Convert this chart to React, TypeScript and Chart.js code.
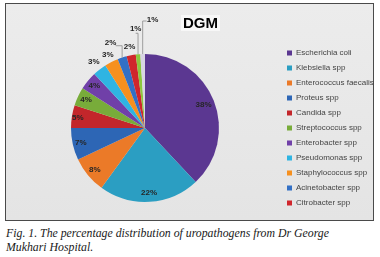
import React, { useEffect, useRef } from "react";
import { Chart, registerables } from "chart.js";

Chart.register(...registerables);

// ---- data ----
const categories = [
  "Escherichia coli",
  "Klebsiella spp",
  "Enterococcus faecalis",
  "Proteus spp",
  "Candida spp",
  "Streptococcus spp",
  "Enterobacter spp",
  "Pseudomonas spp",
  "Staphylococcus spp",
  "Acinetobacter spp",
  "Citrobacter spp",
  "Other 1",
  "Other 2",
];
const percentages = [38, 22, 8, 7, 5, 4, 4, 3, 3, 2, 2, 1, 1];
const legendCount = 11;
const chartTitle = "DGM";
const captionLines = [
  "Fig. 1. The percentage distribution of uropathogens from Dr George",
  "Mukhari Hospital.",
];

// ---- styles ----
const sliceColors = [
  "#5b3791",
  "#2b9ec2",
  "#eb7a28",
  "#2d66b5",
  "#c3262b",
  "#78ac3a",
  "#7040a8",
  "#2fb4e2",
  "#f6901f",
  "#3370c5",
  "#d0262c",
  "#8cc63e",
  "#d8d5e3",
];

type Placement = { r: number; dx?: number; dy?: number; leader?: { sx: number; sy: number } };
const labelPlacement: Placement[] = [
  { r: 0.85 },
  { r: 0.88 },
  { r: 0.88 },
  { r: 0.89 },
  { r: 0.92 },
  { r: 0.88 },
  { r: 0.89 },
  { r: 1.13 },
  { r: 1.11 },
  { r: 1.24, dx: -6, dy: 2, leader: { sx: 5, sy: 3 } },
  { r: 1.12 },
  { r: 1.34, leader: { sx: 0, sy: 4 } },
  { r: 1.46, dx: 11, leader: { sx: -6, sy: 1 } },
];

const CANVAS_W = 400;
const CANVAS_H = 222;
const LEGEND_FONT = 8;
const LEGEND_FAMILY = "'Liberation Sans', Arial, sans-serif";
const LEGEND_PAD = 7;
const LEGEND_BOX = 5;
const LEGEND_LEFT = 280;
const PIE_CX = 145;

const sliceLabelPlugin = {
  id: "sliceLabels",
  afterDatasetsDraw(chart: any) {
    const meta = chart.getDatasetMeta(0);
    const ctx = chart.ctx as CanvasRenderingContext2D;
    ctx.save();
    ctx.font = "bold 8px 'Liberation Sans', Arial, sans-serif";
    ctx.textAlign = "center";
    ctx.textBaseline = "middle";
    meta.data.forEach((arc: any, i: number) => {
      const { x, y, startAngle, endAngle, outerRadius } = arc.getProps(
        ["x", "y", "startAngle", "endAngle", "outerRadius"],
        true
      );
      const mid = (startAngle + endAngle) / 2;
      const p = labelPlacement[i];
      const lx = x + Math.cos(mid) * outerRadius * p.r + (p.dx || 0);
      const ly = y + Math.sin(mid) * outerRadius * p.r + (p.dy || 0);
      if (p.leader) {
        const ax = x + Math.cos(mid) * outerRadius;
        const ay = y + Math.sin(mid) * outerRadius;
        const sx = lx + p.leader.sx;
        const sy = ly + p.leader.sy;
        ctx.beginPath();
        ctx.moveTo(sx, sy);
        ctx.lineTo(ax, sy);
        ctx.lineTo(ax, ay);
        ctx.strokeStyle = "#8a8a8a";
        ctx.lineWidth = 0.8;
        ctx.stroke();
      }
      ctx.fillStyle = "#262626";
      ctx.fillText(`${percentages[i]}%`, lx, ly);
    });
    ctx.restore();
  },
};

export default function App() {
  const canvasRef = useRef<HTMLCanvasElement | null>(null);

  useEffect(() => {
    const canvas = canvasRef.current;
    if (!canvas) return;
    const mctx = document.createElement("canvas").getContext("2d")!;
    mctx.font = `${LEGEND_FONT}px ${LEGEND_FAMILY}`;
    let maxW = 0;
    categories.slice(0, legendCount).forEach((c) => {
      maxW = Math.max(maxW, mctx.measureText(c).width);
    });
    const legendWidth = LEGEND_PAD + LEGEND_BOX + LEGEND_FONT / 2 + maxW + 10;
    const padRight = CANVAS_W - LEGEND_LEFT - legendWidth;
    const padLeft = 2 * PIE_CX - LEGEND_LEFT;

    const chart = new Chart(canvas, {
      type: "pie",
      data: {
        labels: categories,
        datasets: [
          {
            data: percentages,
            backgroundColor: sliceColors,
            borderWidth: 0,
          },
        ],
      },
      options: {
        responsive: false,
        animation: false,
        devicePixelRatio: 1,
        radius: 74,
        layout: {
          padding: { left: padLeft, right: padRight, top: 40, bottom: 6 },
        },
        plugins: {
          title: { display: false },
          tooltip: { enabled: false },
          legend: {
            display: true,
            position: "right",
            align: "center",
            labels: {
              boxWidth: LEGEND_BOX,
              boxHeight: LEGEND_BOX,
              padding: LEGEND_PAD,
              color: "#444444",
              font: { size: LEGEND_FONT, family: LEGEND_FAMILY },
              filter: (item: any) => item.index < legendCount,
            },
          },
        },
      } as any,
      plugins: [sliceLabelPlugin],
    });
    return () => chart.destroy();
  }, []);

  return (
    <div
      style={{
        position: "absolute",
        left: 0,
        top: 0,
        width: 380,
        height: 257,
        overflow: "hidden",
        background: "#ffffff",
      }}
    >
      <div
        style={{
          position: "absolute",
          left: 5,
          top: 3,
          width: 369,
          height: 218,
          boxSizing: "border-box",
          border: "1.5px solid #4a4a4a",
          background: "linear-gradient(#ececec, #e4e4e4)",
        }}
      />
      <canvas
        ref={canvasRef}
        width={CANVAS_W}
        height={CANVAS_H}
        style={{ position: "absolute", left: 0, top: 0, width: CANVAS_W, height: CANVAS_H }}
      />
      <div
        style={{
          position: "absolute",
          left: 181,
          top: 15,
          padding: "0 2px",
          background: "#f7f7f7",
          fontFamily: "'Liberation Sans', Arial, sans-serif",
          fontWeight: "bold",
          fontSize: 15,
          lineHeight: "16px",
          color: "#000",
        }}
      >
        {chartTitle}
      </div>
      <div
        style={{
          position: "absolute",
          left: 6,
          top: 226,
          fontFamily: "'Liberation Serif', 'Times New Roman', serif",
          fontStyle: "italic",
          fontSize: 11.8,
          lineHeight: "14px",
          color: "#1a1a1a",
          whiteSpace: "nowrap",
        }}
      >
        {captionLines.map((l, i) => (
          <div key={i}>{l}</div>
        ))}
      </div>
    </div>
  );
}
